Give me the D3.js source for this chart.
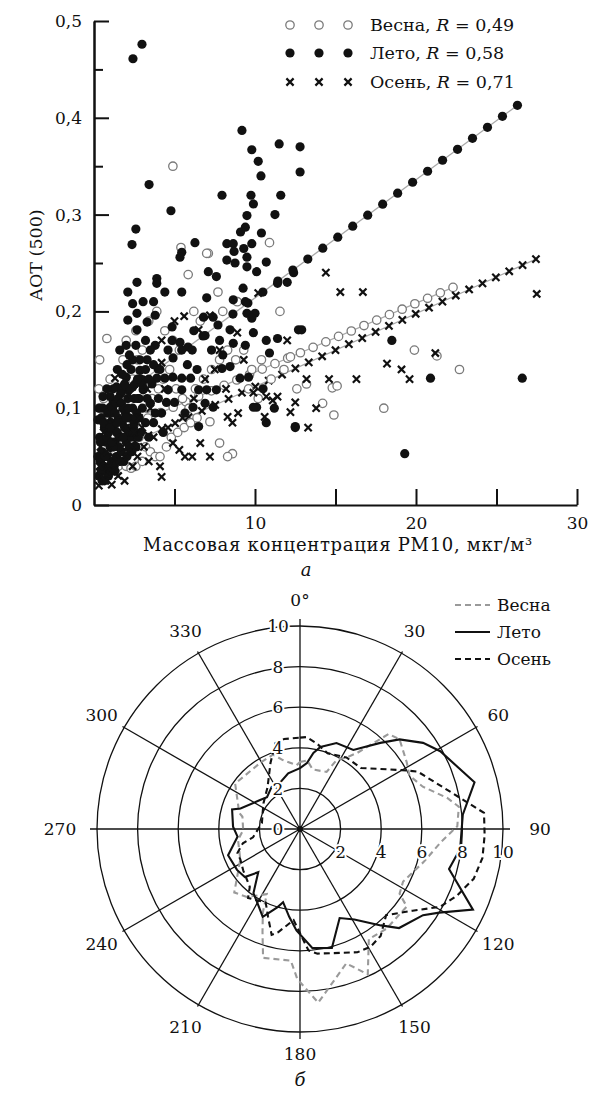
<!DOCTYPE html>
<html>
<head>
<meta charset="utf-8">
<script src="https://cdn.jsdelivr.net/npm/d3@7"></script>
<style>
  body { margin: 0; background: #fff; }
  text { font-family: "DejaVu Serif", "Liberation Serif", serif; fill: #111; }
</style>
</head>
<body>
<script>

/* ---------- panel a: scatter AOT vs PM10 ---------- */

let seasons = ["Весна", "Лето", "Осень"];
let seasonR = ["0,49", "0,58", "0,71"];

/* fitted lines: y = a + b*x, drawn up to xEnd, markers every step */
let fitA = [0.066, 0.092, 0.0465];
let fitB = [0.00712, 0.0122, 0.00756];
let fitXEnd = [22.3, 26.3, 27.45];
let fitStep = [0.79, 0.93, 0.83];

let springPts = [[0.3,0.12],[0.4,0.1],[0.8,0.172],[0.5,0.09],[0.7,0.08],[0.6,0.06],[0.9,0.05],[1.1,0.04],[1.3,0.035],[1.5,0.04],
  [1.7,0.045],[2.0,0.04],[2.3,0.038],[2.6,0.04],[3.0,0.045],[1.2,0.07],[1.4,0.09],[1.6,0.1],[1.9,0.11],[2.2,0.095],
  [2.5,0.085],[2.8,0.07],[3.2,0.06],[3.5,0.055],[3.8,0.05],[4.1,0.05],[4.5,0.06],[4.8,0.07],[5.2,0.075],[5.6,0.08],
  [6.0,0.085],[6.4,0.09],[7.2,0.086],[7.8,0.064],[8.6,0.053],[8.3,0.05],[3.3,0.1],[3.6,0.11],[4.0,0.12],[4.3,0.13],
  [4.7,0.14],[5.1,0.12],[5.5,0.11],[5.9,0.1],[6.3,0.12],[6.8,0.13],[7.3,0.14],[7.8,0.15],[8.3,0.16],[8.8,0.15],
  [9.3,0.16],[9.8,0.14],[10.4,0.15],[2.4,0.13],[2.7,0.15],[3.0,0.16],[2.0,0.17],[1.8,0.15],[2.6,0.18],[3.4,0.19],
  [3.9,0.2],[4.4,0.18],[4.9,0.17],[5.3,0.16],[5.85,0.238],[7.1,0.26],[7.7,0.22],[6.2,0.2],[6.6,0.19],[8.0,0.2],
  [8.9,0.21],[11.55,0.2],[4.9,0.35],[5.4,0.266],[7.0,0.26],[10.9,0.271],[12.2,0.153],[13.2,0.125],[14.8,0.121],[15.1,0.123],
  [14.2,0.105],[14.9,0.093],[18.0,0.1],[19.9,0.16],[21.3,0.154],[22.7,0.14],[9.6,0.12],[10.2,0.11],[11.0,0.13],[11.8,0.14],
  [12.6,0.12],[0.35,0.15],[1.0,0.13],[0.6,0.11]];

let summerPts = [[2.42,0.461],[2.98,0.476],[3.42,0.331],[4.78,0.304],[2.6,0.285],[2.36,0.269],[9.19,0.387],[9.8,0.367],[10.2,0.355],[10.37,0.34],
  [11.5,0.373],[12.8,0.37],[12.8,0.344],[11.6,0.32],[7.95,0.32],[9.75,0.32],[9.9,0.311],[11.24,0.30],[9.5,0.299],[9.4,0.287],
  [9.1,0.282],[10.4,0.281],[6.27,0.271],[8.25,0.27],[8.65,0.27],[9.8,0.27],[5.45,0.261],[8.7,0.262],[9.3,0.265],
  [5.34,0.256],[2.67,0.23],[2.1,0.22],[3.9,0.234],[3.9,0.229],[4.4,0.22],[5.45,0.22],[2.4,0.208],[3.05,0.21],[3.7,0.21],
  [2.1,0.191],[2.67,0.198],[3.3,0.189],[3.8,0.196],[2.67,0.181],[1.6,0.16],[2.0,0.165],[3.2,0.17],[3.8,0.165],[4.85,0.17],
  [4.85,0.184],[5.34,0.168],[5.45,0.16],[6.1,0.16],[7.0,0.214],[6.8,0.194],[7.4,0.194],[7.1,0.241],[7.6,0.236],[8.25,0.253],
  [8.76,0.25],[9.5,0.256],[9.5,0.246],[10.1,0.241],[10.7,0.251],[11.4,0.229],[12.0,0.23],[12.4,0.24],[9.26,0.224],[8.65,0.212],
  [9.4,0.21],[9.5,0.198],[10.0,0.198],[9.8,0.193],[8.45,0.181],[7.8,0.17],[8.65,0.167],[9.4,0.165],[9.9,0.178],[10.7,0.17],
  [11.4,0.172],[10.9,0.157],[12.7,0.181],[7.95,0.141],[8.45,0.143],[9.07,0.131],[9.6,0.132],[10.1,0.101],[9.9,0.101],[10.7,0.085],
  [12.5,0.081],[7.6,0.119],[7.0,0.119],[6.5,0.119],[6.9,0.105],[7.4,0.101],[6.5,0.081],[4.9,0.132],[5.45,0.131],[6.0,0.131],
  [4.4,0.131],[3.9,0.131],[4.6,0.119],[5.45,0.119],[4.5,0.106],[5.65,0.095],[6.15,0.101],[5.0,0.106],[4.2,0.095],[3.7,0.085],
  [3.3,0.15],[2.4,0.15],[2.85,0.15],[2.85,0.139],[2.0,0.132],[1.4,0.122],[1.8,0.122],[2.4,0.122],[3.05,0.119],[1.0,0.112],
  [0.56,0.112],[0.25,0.088],[1.0,0.101],[12.9,0.181],[18.5,0.17],[20.9,0.131],[26.6,0.131],[19.3,0.053],[12.5,0.08],[11.2,0.1],
  [10.5,0.12],[6.2,0.18],[6.9,0.175],[7.3,0.16],[8.0,0.155],[5.8,0.145],[6.4,0.14],
  [0.3,0.03],[0.4,0.045],[0.5,0.055],[0.6,0.04],[0.7,0.065],[0.8,0.05],[0.9,0.075],[1.0,0.06],[1.1,0.045],[1.2,0.08],
  [1.3,0.065],[1.4,0.05],[1.5,0.09],[1.6,0.07],[1.7,0.055],[1.8,0.1],[1.9,0.08],[2.0,0.065],[2.1,0.11],[2.2,0.09],
  [2.3,0.07],[2.4,0.1],[2.5,0.085],[2.6,0.06],[2.7,0.11],[2.8,0.09],[2.9,0.075],[3.0,0.1],[3.1,0.12],[3.2,0.085],
  [3.4,0.07],[3.5,0.105],[3.6,0.125],[0.35,0.07],[0.45,0.09],[0.55,0.1],[0.65,0.08],[0.75,0.035],[0.85,0.095],[0.95,0.04],
  [1.05,0.085],[1.15,0.1],[1.25,0.04],[1.35,0.105],[1.45,0.075],[1.55,0.06],[1.65,0.115],[1.75,0.085],[1.85,0.045],[1.95,0.095],
  [2.05,0.05],[2.15,0.075],[2.25,0.12],[2.35,0.055],[2.45,0.08],[2.55,0.125],[2.65,0.095],[2.75,0.07],[2.9,0.13],[3.3,0.11],
  [0.5,0.025],[0.9,0.03],[1.3,0.035],[0.25,0.05],[0.3,0.1],[3.8,0.095],[4.0,0.11],[4.3,0.075],
  [0.4,0.065],[0.6,0.085],[0.8,0.07],[1.0,0.08],[1.2,0.06],[1.4,0.085],[1.6,0.045],[1.8,0.07],[2.0,0.09],[2.2,0.06],
  [2.4,0.075],[2.6,0.09],[2.8,0.11],[3.0,0.125],[3.2,0.14],[0.7,0.05],[1.1,0.065],[1.5,0.11],[1.9,0.125],[2.3,0.14],
  [2.7,0.13],[3.4,0.13],[3.7,0.145],[4.1,0.14],[1.3,0.095],[1.7,0.105],[2.1,0.1],[2.5,0.11],[0.45,0.035],[0.65,0.025],
  [1.45,0.14],[1.75,0.135],[2.05,0.145],[2.2,0.155],[1.2,0.12],[0.8,0.12],[3.5,0.16],[4.6,0.16],[2.6,0.165]];

let autumnPts = [[14.4,0.24],[15.3,0.22],[16.7,0.22],[27.5,0.218],[21.2,0.157],[18.2,0.146],[19.1,0.14],[19.6,0.13],[16.3,0.13],[14.6,0.13],
  [13.2,0.13],[13.8,0.10],[13.3,0.08],[12.2,0.096],[6.5,0.181],[7.2,0.196],[7.8,0.16],[8.9,0.178],[10.2,0.219],[12.0,0.17],
  [1.3,0.131],[4.2,0.17],[4.2,0.147],[4.2,0.029],[1.1,0.021],[4.1,0.04],[5.65,0.05],[6.1,0.05],[6.6,0.064],[7.2,0.05],
  [8.3,0.091],[8.6,0.085],[8.95,0.095],[9.9,0.116],[10.7,0.112],[11.1,0.108],[11.4,0.112],[12.5,0.106],[10.6,0.091],[4.9,0.064],
  [5.3,0.057],[5.0,0.19],[5.6,0.195],[6.9,0.13],[7.5,0.14],[8.2,0.12],[9.3,0.15],[3.5,0.1],[3.0,0.08],[2.6,0.06],
  [4.6,0.08],[5.5,0.09],[6.2,0.11],[0.3,0.02],[0.5,0.03],[0.7,0.025],[0.9,0.04],[1.2,0.05],[1.5,0.03],[1.8,0.045],
  [2.1,0.055],[2.4,0.04],[2.7,0.05],[3.1,0.06],[3.4,0.045],[3.7,0.07],[0.4,0.06],[0.6,0.075],[0.8,0.055],[1.0,0.09],
  [1.4,0.07],[1.7,0.1],[2.0,0.08],[2.3,0.11],[2.8,0.09],[3.3,0.12],[0.35,0.04],[1.1,0.035],[1.9,0.025],[2.5,0.075],[4.4,0.12]];

let yTicks = [0, 0.1, 0.2, 0.3, 0.4, 0.5];
let yMinorTicks = [0.05, 0.15, 0.25, 0.35, 0.45];
let xTicks = [5, 10, 15, 20, 25, 30];
let xTickLabels = ["", "10", "", "20", "", "30"];

/* ---------- panel б: polar plot ---------- */
let springAng = [0,6,12,25,28,33,37,43,48,58,64,71,78,82,89,95,105,117,123,126,139,148,155,161,174,181,184,196,200,204,207,218,226,243,260,269,282,285,305,329,340,346,357];
let springVal = [3.3,3.4,3.0,3.1,3.86,4.2,4.7,6.4,6.6,6.2,6.0,6.4,7.4,7.9,7.75,7.0,6.3,5.7,5.85,6.5,6.5,6.4,7.9,7.0,8.6,7.4,6.5,6.6,5.4,4.5,3.6,4.25,4.5,3.3,3.1,2.8,2.9,3.1,3.9,3.8,3.9,3.5,3.15];

let summerAng = [0,6,10,14,23,34,43,48,55,61,75,85,97,105,115,121,125,135,140,149,156,165,174,182,187,193,196,203,210,216,224,229,237,250,263,272,286,289,306,314,326,336,348];
let summerVal = [3.0,3.27,3.8,4.16,4.6,4.7,5.8,6.6,7.4,7.9,8.9,8.05,7.95,7.6,9.4,8.0,7.4,6.9,6.2,5.2,4.8,6.07,5.9,5.0,4.36,3.7,4.0,4.7,4.2,3.9,2.96,3.6,3.7,3.77,3.1,3.3,3.48,3.1,2.43,2.26,2.5,2.47,2.8];

let autumnAng = [0,4,11,20,33,45,60,64,77,85,92,99,106,113,119,126,135,143,149,155,172,176,184,192,195,200,205,217,221,234,243,249,256,260,279,293,305,322,336,344,350];
let autumnVal = [4.5,4.54,4.3,3.97,4.2,4.25,5.8,6.45,7.75,9.1,9.1,9.1,8.9,8.4,7.9,6.85,6.0,6.6,6.76,6.7,6.2,6.0,4.5,5.2,5.4,4.6,4.0,4.25,3.77,3.46,3.3,3.3,2.9,2.35,1.9,2.0,2.2,2.6,3.57,4.4,4.5];

let ringValues = [2, 4, 6, 8, 10];
let spokeAngles = [0, 30, 60, 90, 120, 150, 180, 210, 240, 270, 300, 330];
let spokeLabels = ["0°", "30", "60", "90", "120", "150", "180", "210", "240", "270", "300", "330"];
let vertLabels = ["0", "2", "4", "6", "8", "10"];
let vertLabelValues = [0, 2, 4, 6, 8, 10];

let width = 589, height = 1093;

let svg = d3.select("body").append("svg")
    .attr("width", width)
    .attr("height", height)
    .attr("style", "background-color:#fff");

/* ===== scatter ===== */
let xScale = d3.scaleLinear().domain([0, 30]).range([94, 577]);
let yScale = d3.scaleLinear().domain([0, 0.5]).range([505, 21]);

let commaFmt = function(d) {
    return d === 0 ? "0" : d3.format(".1f")(d).replace(".", ",");
};

/* y axis, major ticks pointing inward */
svg.append("g")
    .attr("transform", "translate(" + xScale(0) + ",0)")
    .call(d3.axisLeft(yScale).tickValues(yTicks).tickSizeInner(-15).tickSizeOuter(0).tickPadding(12).tickFormat(commaFmt));
svg.append("g")
    .attr("transform", "translate(" + xScale(0) + ",0)")
    .call(d3.axisLeft(yScale).tickValues(yMinorTicks).tickSizeInner(-9).tickSizeOuter(0).tickFormat(""));

svg.append("g")
    .attr("transform", "translate(0," + yScale(0) + ")")
    .call(d3.axisBottom(xScale).tickValues(xTicks).tickSizeInner(-16).tickSizeOuter(0).tickPadding(12)
        .tickFormat(function(d, i) { return xTickLabels[i]; }));

svg.selectAll(".domain").attr("stroke", "#111").attr("stroke-width", 2);
svg.selectAll(".tick line").attr("stroke", "#111").attr("stroke-width", 2);
svg.selectAll(".tick text").attr("font-family", "DejaVu Serif").attr("font-size", 17).attr("fill", "#111");

/* axis titles */
svg.append("text")
    .attr("transform", "translate(42," + 255 + ") rotate(-90)")
    .attr("text-anchor", "middle")
    .attr("font-size", 17.5)
    .text("AOT (500)");

svg.append("text")
    .attr("x", 338).attr("y", 551)
    .attr("text-anchor", "middle")
    .attr("font-size", 18)
    .attr("letter-spacing", 0.7)
    .text("Массовая концентрация PM10, мкг/м³");

svg.append("text")
    .attr("x", 306).attr("y", 576)
    .attr("text-anchor", "middle")
    .attr("font-size", 18)
    .attr("font-style", "italic")
    .text("а");

let crossPath = "M-3.6,-3.6L3.6,3.6M-3.6,3.6L3.6,-3.6";

function drawSpring(sel, pts) {
    sel.selectAll(null).data(pts).enter().append("circle")
        .attr("cx", function(d) { return xScale(d[0]); })
        .attr("cy", function(d) { return yScale(d[1]); })
        .attr("r", 4.2)
        .attr("fill", "#fff")
        .attr("stroke", "#7a7a7a")
        .attr("stroke-width", 1.3);
}
function drawSummer(sel, pts) {
    sel.selectAll(null).data(pts).enter().append("circle")
        .attr("cx", function(d) { return xScale(d[0]); })
        .attr("cy", function(d) { return yScale(d[1]); })
        .attr("r", 4.6)
        .attr("fill", "#111");
}
function drawAutumn(sel, pts) {
    sel.selectAll(null).data(pts).enter().append("path")
        .attr("d", crossPath)
        .attr("transform", function(d) { return "translate(" + xScale(d[0]) + "," + yScale(d[1]) + ")"; })
        .attr("fill", "none")
        .attr("stroke", "#111")
        .attr("stroke-width", 2.2);
}

/* marker positions along each fitted line */
function fitMarks(i) {
    let pts = [];
    for (let x = fitXEnd[i]; x >= 0.3; x -= fitStep[i]) {
        pts.push([x, fitA[i] + fitB[i] * x]);
    }
    return pts;
}

/* regression lines with markers, drawn under the data cloud */
let fitColor = "#a8a8a8";
let fitG = svg.append("g");
seasons.forEach(function(s, i) {
    fitG.append("line")
        .attr("x1", xScale(0.3)).attr("y1", yScale(fitA[i] + fitB[i] * 0.3))
        .attr("x2", xScale(fitXEnd[i])).attr("y2", yScale(fitA[i] + fitB[i] * fitXEnd[i]))
        .attr("stroke", fitColor).attr("stroke-width", 1.3);
});
drawSpring(fitG, fitMarks(0));
drawSummer(fitG, fitMarks(1));
drawAutumn(fitG, fitMarks(2));

let pointsG = svg.append("g");
drawSpring(pointsG, springPts);
drawSummer(pointsG, summerPts);
drawAutumn(pointsG, autumnPts);

/* legend */
let legendRows = [25, 53, 82];
let legendSymX = [290, 319, 348];
let legendG = svg.append("g");
seasons.forEach(function(s, i) {
    let pts = legendSymX.map(function(px) { return [xScale.invert(px), yScale.invert(legendRows[i])]; });
    if (i === 0) drawSpring(legendG, pts);
    if (i === 1) drawSummer(legendG, pts);
    if (i === 2) drawAutumn(legendG, pts);
    let t = legendG.append("text")
        .attr("x", 370).attr("y", legendRows[i] + 6)
        .attr("font-size", 17.5);
    t.append("tspan").text(s + ", ");
    t.append("tspan").attr("font-style", "italic").text("R");
    t.append("tspan").text(" = " + seasonR[i]);
});

/* ===== polar ===== */
let cx = 300, cy = 829;
let rScale = d3.scaleLinear().domain([0, 10]).range([0, 203]);
let polarG = svg.append("g").attr("transform", "translate(" + cx + "," + cy + ")");

polarG.selectAll("circle.ring").data(ringValues).enter().append("circle")
    .attr("class", "ring")
    .attr("r", function(d) { return rScale(d); })
    .attr("fill", "none").attr("stroke", "#111").attr("stroke-width", 1.3);

function polarXY(angDeg, r) {
    let a = angDeg * Math.PI / 180;
    return [r * Math.sin(a), -r * Math.cos(a)];
}

polarG.selectAll("line.spoke").data(spokeAngles).enter().append("line")
    .attr("class", "spoke")
    .attr("x1", 0).attr("y1", 0)
    .attr("x2", function(d) { return polarXY(d, rScale(10) + (d % 90 === 0 ? 7 : 2))[0]; })
    .attr("y2", function(d) { return polarXY(d, rScale(10) + (d % 90 === 0 ? 7 : 2))[1]; })
    .attr("stroke", "#111").attr("stroke-width", 1.3);

polarG.append("circle").attr("r", 3).attr("fill", "#111");

/* data curves */
let radial = d3.lineRadial()
    .angle(function(d) { return d[0] * Math.PI / 180; })
    .radius(function(d) { return rScale(d[1]); })
    .curve(d3.curveLinearClosed);

let curveSpecs = [
    { ang: springAng, val: springVal, color: "#9a9a9a", dash: "6,4" },
    { ang: summerAng, val: summerVal, color: "#111", dash: null },
    { ang: autumnAng, val: autumnVal, color: "#111", dash: "6,4" }
];
curveSpecs.forEach(function(c) {
    polarG.append("path")
        .datum(c.ang.map(function(a, i) { return [a, c.val[i]]; }))
        .attr("d", radial)
        .attr("fill", "none")
        .attr("stroke", c.color)
        .attr("stroke-width", 2.1)
        .attr("stroke-dasharray", c.dash);
});

/* radial value labels with white halo */
polarG.selectAll("text.vlab").data(vertLabelValues).enter().append("text")
    .attr("class", "vlab")
    .attr("x", -22)
    .attr("y", function(d) { return -rScale(d); })
    .attr("dy", "0.36em")
    .attr("text-anchor", "middle")
    .attr("font-size", 17)
    .attr("stroke", "#fff").attr("stroke-width", 4).attr("paint-order", "stroke")
    .text(function(d, i) { return vertLabels[i]; });

polarG.selectAll("text.hlab").data(ringValues).enter().append("text")
    .attr("class", "hlab")
    .attr("x", function(d) { return rScale(d); })
    .attr("y", 23)
    .attr("dy", "0.36em")
    .attr("text-anchor", "middle")
    .attr("font-size", 17)
    .attr("stroke", "#fff").attr("stroke-width", 4).attr("paint-order", "stroke")
    .text(function(d) { return d; });

/* angle labels */
polarG.selectAll("text.alab").data(spokeAngles).enter().append("text")
    .attr("class", "alab")
    .attr("x", function(d) { return polarXY(d, d % 180 === 90 ? 240 : (d === 180 ? 225 : 229))[0]; })
    .attr("y", function(d) { return polarXY(d, d % 180 === 90 ? 240 : (d === 180 ? 225 : 229))[1]; })
    .attr("dy", "0.36em")
    .attr("text-anchor", "middle")
    .attr("font-size", 17)
    .text(function(d, i) { return spokeLabels[i]; });

svg.append("text")
    .attr("x", cx).attr("y", 1086)
    .attr("text-anchor", "middle")
    .attr("font-size", 18)
    .attr("font-style", "italic")
    .text("б");

/* polar legend */
let pLegY = [605, 632, 659];
curveSpecs.forEach(function(c, i) {
    svg.append("line")
        .attr("x1", 455).attr("x2", 490)
        .attr("y1", pLegY[i]).attr("y2", pLegY[i])
        .attr("stroke", c.color).attr("stroke-width", 2.1)
        .attr("stroke-dasharray", c.dash);
    svg.append("text")
        .attr("x", 497).attr("y", pLegY[i] + 6)
        .attr("font-size", 17)
        .text(seasons[i]);
});

</script>
</body>
</html>
